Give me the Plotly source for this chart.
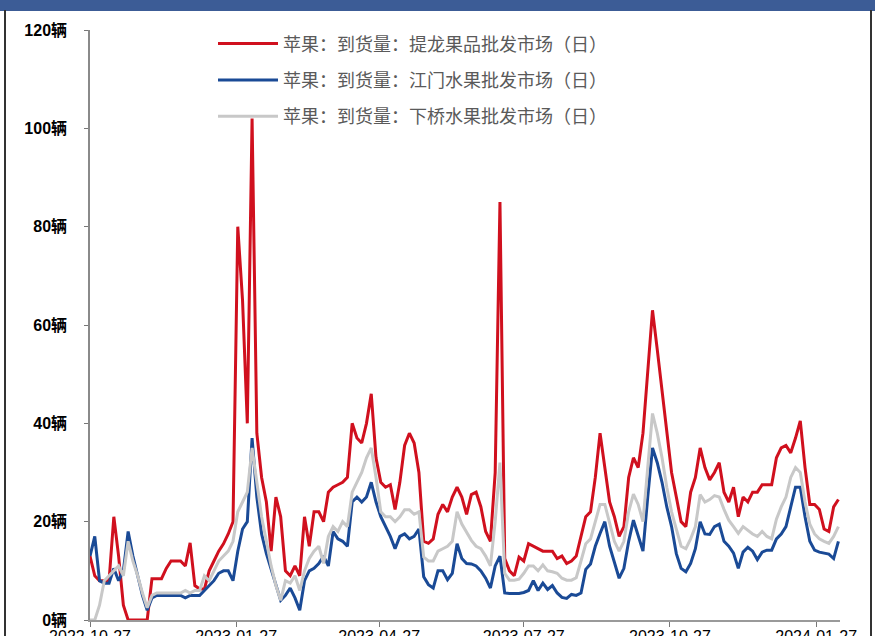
import pandas as pd
import plotly.graph_objects as go

# ---- data ----
dates = pd.date_range("2022-10-27", periods=158, freq="3D")

red_name = "苹果：到货量：提龙果品批发市场（日）"
blue_name = "苹果：到货量：江门水果批发市场（日）"
gray_name = "苹果：到货量：下桥水果批发市场（日）"

red = [13, 9, 8, 8, 8, 21, 13, 3, 0, 0, 0, 0, 0, 8.4, 8.4, 8.4, 10.5, 12, 12, 12,
       11, 15.7, 7, 6.3, 6.3, 10, 12, 14, 15.5, 17.5, 20, 80, 65, 40, 102, 38, 29, 24, 14, 25,
       21, 10, 9, 11, 9, 21, 15, 22, 22, 20, 26, 27, 27.5, 28, 29, 40, 37, 36, 40, 46,
       33, 28, 27, 27.5, 22.5, 28, 35.5, 38, 36, 30, 16, 15.6, 16.5, 21.5, 23.5, 22, 25, 27, 25, 21.5,
       25.5, 26, 23, 18, 16, 30, 85, 12.5, 10, 9, 12.8, 12, 15.5, 15, 14.5, 14, 14, 14, 12.5, 13,
       11.5, 12, 13, 17, 21, 22, 29, 38, 31, 24, 21, 17, 19, 29, 33, 31, 38, 50, 63, 55,
       47, 38, 30, 25, 20, 19, 26, 29, 35, 31, 28.5, 30, 32, 26, 24, 27, 21, 25, 24, 26,
       26, 27.5, 27.5, 27.5, 33, 35, 35.5, 34, 37, 40.5, 31, 23.5, 23.5, 22.5, 18.5, 18, 23, 24.5]

blue = [13, 17, 8, 7.5, 7.5, 10.5, 8, 10, 18, 13, 9, 5, 2, 4.5, 5, 5, 5, 5, 5, 5,
        4.5, 5, 5, 5, 6, 7, 8, 9.5, 10, 10, 8, 14, 18.5, 20, 37, 25, 17.5, 13.5, 10.5, 7.5,
        4, 5, 6.5, 4.5, 2, 8, 10, 10.5, 11.5, 13, 11, 18, 16.5, 16, 15, 24, 25, 24, 25, 28,
        24, 21, 19, 17, 14.5, 17, 17.5, 16.5, 17, 18.5, 8.8, 7.2, 6.5, 10, 10, 8.2, 9.5, 15.5, 12.5, 11.5,
        11.4, 11, 10, 8.5, 6.5, 11, 13, 5.5, 5.4, 5.4, 5.4, 5.6, 6, 8, 6, 7.5, 6.2, 7, 5.5, 4.6,
        4.4, 5.2, 5, 5.5, 10.3, 11.4, 15, 17.6, 20, 15, 11.5, 8.5, 10.5, 16, 20.3, 17.2, 14, 25, 35, 32,
        28, 23, 19, 13.5, 10.5, 9.8, 11.5, 14.5, 20, 17.5, 17.4, 19, 19.5, 16, 15, 13.6, 10.5, 13.8, 14.8, 14,
        12.3, 13.8, 14.2, 14.2, 16.5, 17.5, 19, 23, 27, 27, 21, 16, 14.2, 13.8, 13.6, 13.4, 12.5, 16]

gray = [0, 0, 3, 8, 9, 10, 11, 9, 16, 12, 9, 5.5, 2.5, 5, 5.5, 5.5, 5.5, 5.5, 5.5, 5.5,
        6, 5.5, 6, 6, 9, 8, 10, 12, 13, 14, 16, 22, 24, 26, 35, 28, 21, 16, 11, 7,
        4, 8, 7.5, 9, 6, 10, 12.5, 14, 15, 11.5, 17, 19, 18, 20, 19, 26, 28, 30, 33, 35,
        29, 22, 21, 21, 20, 21, 22.4, 22.4, 21.5, 22, 12.8, 12, 12, 14, 14.5, 15, 16, 22, 19.5, 17.8,
        16.2, 15, 14.5, 13, 11, 20, 32, 9.5, 8.1, 8.1, 8.3, 9.5, 11, 11, 10, 11.2, 10, 9.8, 9.5, 8.5,
        8.1, 8.1, 8.6, 12, 15.5, 16.5, 20, 23.5, 23.5, 19.5, 16, 14, 16, 22, 25.6, 23.5, 20, 31, 42, 38,
        33, 27, 22, 18.5, 15, 14.5, 16.5, 19, 25.5, 24, 24.5, 25.3, 25, 22.5, 20.3, 19, 17.6, 19, 18.2, 17.5,
        17, 18, 17, 16.5, 20.5, 23, 25, 29, 31, 30, 24, 19.5, 17.5, 16.5, 16, 15.6, 17, 19]

y_ticks = [0, 20, 40, 60, 80, 100, 120]
y_labels = [f"<b>{v}辆</b>" for v in y_ticks]
x_ticks = ["2022-10-27", "2023-01-27", "2023-04-27", "2023-07-27", "2023-10-27", "2024-01-27"]
x_range = ["2022-10-27", "2024-02-11"]

# ---- figure ----
fig = go.Figure()
series = [(red, red_name, "#D0101E"), (blue, blue_name, "#1A4A96"), (gray, gray_name, "#C8C8C8")]
for i, (vals, name, color) in enumerate(series):
    fig.add_trace(go.Scatter(x=dates, y=vals, mode="lines", name=name,
                             legendgroup=f"g{i}",
                             line=dict(color=color, width=3)))

font_family = "Liberation Sans, Arial, Noto Sans CJK SC, sans-serif"

fig.update_layout(
    width=875, height=636,
    margin=dict(l=90, r=35, t=30, b=16),
    paper_bgcolor="white", plot_bgcolor="white",
    font=dict(family=font_family, color="black"),
    showlegend=True,
    legend=dict(x=0.164, y=1.008, xanchor="left", yanchor="top",
                bgcolor="rgba(0,0,0,0)", tracegroupgap=10, itemwidth=60,
                font=dict(family="Noto Sans CJK SC, sans-serif", size=18, color="#5a5a5a")),
    xaxis=dict(type="date", range=x_range, tickvals=x_ticks, tickformat="%Y-%m-%d",
               automargin=False,
               showgrid=False, zeroline=False, showline=True, linecolor="#9a9a9a", linewidth=2,
               ticks="outside", ticklen=5, tickcolor="#777", tickwidth=1,
               ticklabelstandoff=-4,
               tickfont=dict(size=16, color="black", family=font_family)),
    yaxis=dict(range=[0, 120], tickvals=y_ticks, ticktext=y_labels,
               automargin=False,
               showgrid=False, zeroline=False, showline=True, linecolor="#8a8a8a", linewidth=1.5,
               ticks="outside", ticklen=4, tickcolor="#777", tickwidth=1,
               ticklabelstandoff=14,
               tickfont=dict(size=16, color="black", family=font_family)),
)

# top title band and frame
ph = 590.0
pw = 750.0
fig.add_shape(type="rect", xref="paper", yref="paper",
              x0=(0 - 90) / pw, x1=(875 - 90) / pw,
              y0=(620 - 11) / ph, y1=(620 + 2) / ph,
              fillcolor="#3C5C96", line=dict(width=0), layer="above")
fig.add_shape(type="line", xref="paper", yref="paper",
              x0=(5 - 90) / pw, x1=(5 - 90) / pw, y0=(620 - 640) / ph, y1=(620 - 10) / ph,
              line=dict(color="#333", width=2))
fig.add_shape(type="line", xref="paper", yref="paper",
              x0=(871 - 90) / pw, x1=(871 - 90) / pw, y0=(620 - 640) / ph, y1=(620 - 10) / ph,
              line=dict(color="#333", width=2))

fig.write_html("out.html",
               config={"displayModeBar": False},
               post_script="document.body.style.margin='0';document.body.style.overflow='hidden';")
